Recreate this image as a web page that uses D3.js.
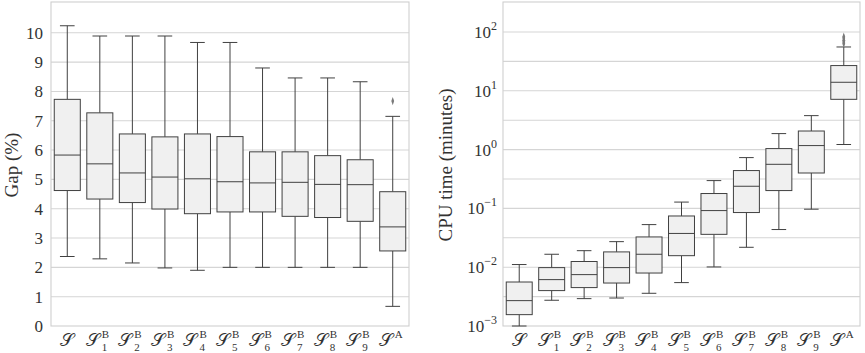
<!DOCTYPE html>
<html>
<head>
<meta charset="utf-8">
<script src="https://cdn.jsdelivr.net/npm/d3@7"></script>
<style>
  body { margin: 0; background: #fff; }
  text { font-family: "Liberation Serif", "DejaVu Serif", serif; fill: #333; }
</style>
</head>
<body>
<div id="chart"></div>
<script>
  var width = 865, height = 353;

  // categories: [superscript, subscript]
  var categories = [["", ""], ["B", "1"], ["B", "2"], ["B", "3"], ["B", "4"], ["B", "5"],
                    ["B", "6"], ["B", "7"], ["B", "8"], ["B", "9"], ["A", ""]];

  // gap (%) boxes: low whisker, q1, median, q3, high whisker
  var gapLow    = [2.37, 2.29, 2.15, 1.98, 1.90, 2.00, 2.00, 2.00, 2.00, 2.00, 0.67];
  var gapQ1     = [4.62, 4.33, 4.21, 3.99, 3.83, 3.89, 3.89, 3.74, 3.70, 3.57, 2.56];
  var gapMedian = [5.83, 5.53, 5.22, 5.08, 5.02, 4.92, 4.88, 4.90, 4.83, 4.82, 3.38];
  var gapQ3     = [7.73, 7.27, 6.55, 6.45, 6.55, 6.46, 5.94, 5.94, 5.81, 5.67, 4.58];
  var gapHigh   = [10.24, 9.89, 9.89, 9.89, 9.67, 9.67, 8.80, 8.46, 8.46, 8.33, 7.15];
  var gapOutliers = [[10, 7.67]];
  var gapTicks = [0, 1, 2, 3, 4, 5, 6, 7, 8, 9, 10];

  // cpu time (minutes) boxes
  var cpuLow    = [0.00100, 0.00274, 0.00292, 0.00299, 0.00360, 0.00547, 0.0101, 0.0218, 0.0437, 0.0969, 1.22];
  var cpuQ1     = [0.00156, 0.00400, 0.00450, 0.00538, 0.00796, 0.0157, 0.0362, 0.0850, 0.201, 0.400, 7.16];
  var cpuMedian = [0.00270, 0.00615, 0.00748, 0.00984, 0.0166, 0.0375, 0.0918, 0.238, 0.562, 1.17, 13.96];
  var cpuQ3     = [0.00560, 0.00984, 0.0125, 0.0182, 0.0327, 0.0743, 0.179, 0.440, 1.04, 2.07, 26.85];
  var cpuHigh   = [0.0111, 0.0166, 0.0191, 0.0272, 0.0530, 0.128, 0.297, 0.731, 1.87, 3.78, 55.6];
  var cpuOutliers = [[10, 63.1], [10, 67.6], [10, 72.4], [10, 79.4], [10, 83.2]];
  var cpuTicks = [1e-3, 1e-2, 1e-1, 1e0, 1e1, 1e2];
  var cpuGrid = [-2.5, -2, -1.5, -1, -0.5, 0, 0.5, 1, 1.5, 2];

  var svg = d3.select("#chart").append("svg")
    .attr("width", width)
    .attr("height", height);

  var boxFill = "#f0f0f0", lineCol = "#404040", gridCol = "#d5d5d5";

  function panel(opt) {
    var x = d3.scaleBand()
      .domain(d3.range(categories.length))
      .range([opt.left, opt.right]);
    var y = opt.y;

    var g = svg.append("g");

    // grid
    g.selectAll(".grid")
      .data(opt.grid)
      .enter().append("line")
      .attr("x1", opt.left).attr("x2", opt.right)
      .attr("y1", d => y(d)).attr("y2", d => y(d))
      .style("stroke", gridCol).style("stroke-width", 1.1);

    // frame
    g.append("rect")
      .attr("x", opt.left).attr("y", opt.top)
      .attr("width", opt.right - opt.left).attr("height", opt.bottom - opt.top)
      .style("fill", "none").style("stroke", "#cfcfcf").style("stroke-width", 1.1);

    var bw = x.bandwidth() * 0.8, cw = x.bandwidth() * 0.45;
    var boxes = g.selectAll(".box")
      .data(d3.range(categories.length))
      .enter().append("g")
      .attr("transform", d => "translate(" + (x(d) + x.bandwidth() / 2) + ",0)");

    boxes.append("line")
      .attr("y1", d => y(opt.low[d])).attr("y2", d => y(opt.q1[d]))
      .style("stroke", lineCol);
    boxes.append("line")
      .attr("y1", d => y(opt.q3[d])).attr("y2", d => y(opt.high[d]))
      .style("stroke", lineCol);
    boxes.append("line")
      .attr("x1", -cw / 2).attr("x2", cw / 2)
      .attr("y1", d => y(opt.low[d])).attr("y2", d => y(opt.low[d]))
      .style("stroke", lineCol);
    boxes.append("line")
      .attr("x1", -cw / 2).attr("x2", cw / 2)
      .attr("y1", d => y(opt.high[d])).attr("y2", d => y(opt.high[d]))
      .style("stroke", lineCol);
    boxes.append("rect")
      .attr("x", -bw / 2).attr("width", bw)
      .attr("y", d => y(opt.q3[d]))
      .attr("height", d => y(opt.q1[d]) - y(opt.q3[d]))
      .style("fill", boxFill).style("stroke", lineCol);
    boxes.append("line")
      .attr("x1", -bw / 2).attr("x2", bw / 2)
      .attr("y1", d => y(opt.median[d])).attr("y2", d => y(opt.median[d]))
      .style("stroke", lineCol);

    // outliers
    g.selectAll(".flier")
      .data(opt.outliers)
      .enter().append("path")
      .attr("d", d3.symbol(d3.symbolDiamond, 14))
      .attr("transform", d => "translate(" + (x(d[0]) + x.bandwidth() / 2) + "," + y(d[1]) + ") scale(0.7,1.2)")
      .style("fill", "#7a7a7a");

    // x labels: script S with superscript / subscript
    var lab = g.selectAll(".xlab")
      .data(categories)
      .enter().append("g")
      .attr("transform", (d, i) => "translate(" + (x(i) + x.bandwidth() / 2) + ",346)");
    lab.append("text")
      .attr("text-anchor", (d) => d[0] ? "end" : "middle")
      .attr("x", d => d[0] ? 0 : 0)
      .style("font-size", "18px")
      .style("font-family", "'DejaVu Serif', serif")
      .text("\u{1D4AE}");
    lab.append("text")
      .attr("x", 2).attr("y", -8)
      .style("font-size", "11px")
      .text(d => d[0]);
    lab.append("text")
      .attr("x", 2).attr("y", 5)
      .style("font-size", "11px")
      .text(d => d[1]);

    return g;
  }

  // left panel: gap
  var yGap = d3.scaleLinear().domain([0, 11.05]).range([326, 2]);
  var left = panel({
    left: 51, right: 409, top: 2, bottom: 326, y: yGap,
    grid: gapTicks.slice(1),
    low: gapLow, q1: gapQ1, median: gapMedian, q3: gapQ3, high: gapHigh,
    outliers: gapOutliers
  });
  left.selectAll(".ytick")
    .data(gapTicks)
    .enter().append("text")
    .attr("x", 43).attr("y", d => yGap(d) + 6)
    .attr("text-anchor", "end")
    .style("font-size", "17px")
    .text(d => d);
  left.append("text")
    .attr("transform", "translate(18,165) rotate(-90)")
    .attr("text-anchor", "middle")
    .style("font-size", "19px")
    .text("Gap (%)");

  // right panel: cpu time, log scale
  var yCpu = d3.scaleLog().domain([1e-3, Math.pow(10, 2.51)]).range([326, 2]);
  var right = panel({
    left: 503, right: 860, top: 2, bottom: 326, y: yCpu,
    grid: cpuGrid.map(e => Math.pow(10, e)),
    low: cpuLow, q1: cpuQ1, median: cpuMedian, q3: cpuQ3, high: cpuHigh,
    outliers: cpuOutliers
  });
  var yt = right.selectAll(".ytick")
    .data(cpuTicks)
    .enter().append("text")
    .attr("x", 497).attr("y", d => yCpu(d) + 6)
    .attr("text-anchor", "end")
    .style("font-size", "17px");
  yt.append("tspan").text("10");
  yt.append("tspan")
    .attr("dy", -8)
    .style("font-size", "12px")
    .text(function(d) {
      var e = Math.round(Math.log10(d));
      return e < 0 ? "\u2212" + (-e) : e;
    });
  right.append("text")
    .attr("transform", "translate(452,165) rotate(-90)")
    .attr("text-anchor", "middle")
    .style("font-size", "19px")
    .text("CPU time (minutes)");
</script>
</body>
</html>
